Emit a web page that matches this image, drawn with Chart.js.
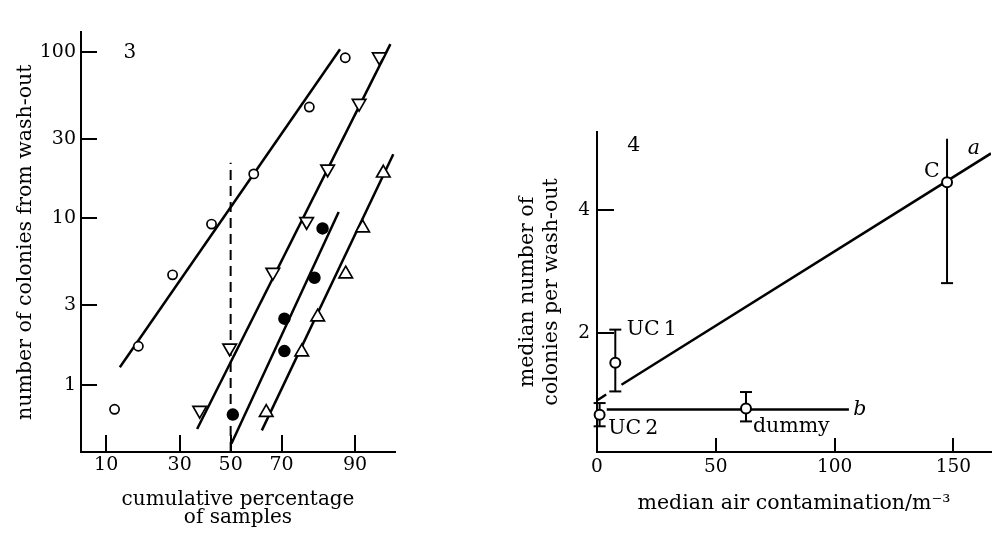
<!DOCTYPE html>
<html>
<head>
<meta charset="utf-8">
<script src="https://cdn.jsdelivr.net/npm/chart.js@4"></script>
<style>
html, body { margin:0; padding:0; background:#fff; }
#wrap { position:relative; width:999px; height:533px; overflow:hidden; background:#fff; }
canvas { position:absolute; top:0; }
#left { left:0; }
#right { left:500px; }
</style>
</head>
<body>
<div id="wrap">
<canvas id="left" width="420" height="533"></canvas>
<canvas id="right" width="499" height="533"></canvas>
</div>
<script>
(function(){

// fig 3 : cumulative percentage (probit) vs colonies (log)
var pctTicks = [10, 30, 50, 70, 90];
var countTicks = [1, 3, 10, 30, 100];
var pctRange = [6.17, 95.47];
var countRange = [0.393, 131.3];

var openPct = [11.6, 17.1, 27.5, 42.2, 59.4, 79.1, 88.1];
var openCount = [0.71, 1.70, 4.57, 9.23, 18.5, 46.7, 92.4];
var openFitPct = [12.7, 87.0];
var openFitCount = [1.27, 104];

var downPct = [37.5, 49.6, 66.8, 78.3, 84.1, 90.7, 93.7];
var downCount = [0.70, 1.66, 4.73, 9.57, 19.8, 49.2, 93.6];
var downFitPct = [36.5, 95.0];
var downFitCount = [0.54, 111.6];

var filledPct = [50.9, 71.0, 71.0, 80.6, 82.8];
var filledCount = [0.66, 1.59, 2.49, 4.39, 8.69];
var filledFitPct = [50.3, 86.7];
var filledFitCount = [0.44, 10.9];

var upPct = [64.3, 76.8, 81.5, 88.2, 91.3, 94.2];
var upCount = [0.68, 1.57, 2.55, 4.63, 8.75, 18.7];
var upFitPct = [62.6, 95.3];
var upFitCount = [0.53, 24.3];

var medianPct = [50, 50];
var medianCount = [0.393, 21.6];

var fig3Text = ['3'];
var fig3Pct = [15.0];
var fig3Count = [99];

// fig 4 : air contamination vs median colonies
var airTicks = [0, 50, 100, 150];
var medTicks = [2, 4];
var airRange = [0, 165.8];
var medRange = [0.05, 5.28];

var sampleAir = [1.1, 7.7, 62.7, 147.3];
var sampleMed = [0.66, 1.51, 0.76, 4.46];
var sampleLo = [0.47, 1.04, 0.55, 2.81];
var sampleHi = [0.85, 2.05, 1.03, 5.17];
var sampleTopCap = [true, true, true, false];

var lineAAir = [10.3, 165.8];
var lineAMed = [1.15, 4.93];
var lineAStubAir = [0.3, 3.85];
var lineAStubMed = [0.90, 0.99];
var lineBAir = [4.1, 106.0];
var lineBMed = [0.746, 0.746];

var fig4Text = ['C', 'a', 'b', 'UC\u20091', 'UC\u20092', 'dummy', '4'];
var fig4Air = [144.2, 158.6, 107.8, 12.5, 4.7, 65.6, 15.5];
var fig4Med = [4.63, 5.0, 0.746, 2.05, 0.435, 0.468, 5.06];

var serif = "'DejaVu Serif', 'Liberation Serif', serif";
Chart.defaults.font.family = serif;
Chart.defaults.color = '#000';

// inverse normal cdf (Acklam)
function probit(p){
  var a = [-39.69683028665376, 220.9460984245205, -275.9285104469687, 138.3577518672690, -30.66479806614716, 2.506628277459239];
  var b = [-54.47609879822406, 161.5858368580409, -155.6989798598866, 66.80131188771910, -13.28068155288572];
  var c = [-0.007784894002430293, -0.3223964580411365, -2.400758277161838, -2.549732539343734, 4.374664141464968, 2.938163982698783];
  var d = [0.007784695709041462, 0.3224671290700398, 2.445134137142996, 3.754408661907416];
  var lo = 0.02425, q, r;
  if (p < lo){
    q = Math.sqrt(-2*Math.log(p));
    return (((((c[0]*q+c[1])*q+c[2])*q+c[3])*q+c[4])*q+c[5]) / ((((d[0]*q+d[1])*q+d[2])*q+d[3])*q+1);
  }
  if (p <= 1 - lo){
    q = p - 0.5; r = q*q;
    return (((((a[0]*r+a[1])*r+a[2])*r+a[3])*r+a[4])*r+a[5])*q / (((((b[0]*r+b[1])*r+b[2])*r+b[3])*r+b[4])*r+1);
  }
  q = Math.sqrt(-2*Math.log(1-p));
  return -(((((c[0]*q+c[1])*q+c[2])*q+c[3])*q+c[4])*q+c[5]) / ((((d[0]*q+d[1])*q+d[2])*q+d[3])*q+1);
}
function z(pct){ return probit(pct/100); }

function pts(xs, ys, fx){
  return xs.map(function(x, i){ return {x: fx ? fx(x) : x, y: ys[i]}; });
}

function markers(data, style, fill, radius, rotation){
  return {
    data: data, showLine: false, order: 0, clip: false,
    pointStyle: style, pointRotation: rotation || 0,
    pointRadius: radius, pointHoverRadius: radius,
    pointBackgroundColor: fill, pointBorderColor: '#000', pointBorderWidth: 1.7
  };
}
function fit(data, width){
  return {
    data: data, showLine: true, order: 1,
    borderColor: '#000', borderWidth: width || 2.5,
    pointRadius: 0, pointHoverRadius: 0
  };
}

// draws text labels at data coordinates
var notes = {
  id: 'notes',
  afterDatasetsDraw: function(chart, args, o){
    var ctx = chart.ctx, sx = chart.scales.x, sy = chart.scales.y;
    ctx.save();
    ctx.fillStyle = '#000';
    ctx.textBaseline = 'middle';
    o.text.forEach(function(t, i){
      ctx.font = (o.italic && o.italic[i] ? 'italic ' : '') + o.size + 'px ' + serif;
      ctx.textAlign = o.align ? o.align[i] : 'center';
      ctx.fillText(t, sx.getPixelForValue(o.x[i]), sy.getPixelForValue(o.y[i]));
    });
    ctx.restore();
  }
};

// ---------- left chart
new Chart(document.getElementById('left'), {
  type: 'scatter',
  plugins: [notes],
  data: { datasets: [
    markers(pts(openPct, openCount, z), 'circle', '#fff', 4.6),
    markers(pts(downPct, downCount, z), 'triangle', '#fff', 7.8, 180),
    markers(pts(filledPct, filledCount, z), 'circle', '#000', 5.4),
    markers(pts(upPct, upCount, z), 'triangle', '#fff', 7.8),
    fit(pts(openFitPct, openFitCount, z)),
    fit(pts(downFitPct, downFitCount, z)),
    fit(pts(filledFitPct, filledFitCount, z)),
    fit(pts(upFitPct, upFitCount, z)),
    Object.assign(fit(pts(medianPct, medianCount, z), 2), {borderDash: [10, 6]})
  ]},
  options: {
    responsive: false, animation: false, devicePixelRatio: 1,
    layout: { padding: { top: 12, right: 25, left: 0, bottom: 0 } },
    plugins: {
      legend: { display: false }, tooltip: { enabled: false },
      notes: { text: fig3Text, x: fig3Pct.map(z), y: fig3Count, size: 20 }
    },
    scales: {
      x: {
        type: 'linear', min: z(pctRange[0]), max: z(pctRange[1]),
        afterBuildTicks: function(s){ s.ticks = pctTicks.map(function(p){ return {value: z(p)}; }); },
        afterFit: function(s){ s.height = 81; },
        ticks: { callback: function(v, i){ return pctTicks[i]; }, padding: 19, font: { size: 19 }, maxRotation: 0, autoSkip: false },
        grid: { drawOnChartArea: false, tickLength: -17, color: '#000', lineWidth: 2 },
        border: { color: '#000', width: 2 },
        title: { display: true, text: ['cumulative percentage', 'of samples'], font: { size: 20, lineHeight: 0.9 }, padding: { top: 0, bottom: 6 } }
      },
      y: {
        type: 'logarithmic', min: countRange[0], max: countRange[1],
        afterBuildTicks: function(s){ s.ticks = countTicks.map(function(v){ return {value: v}; }); },
        afterFit: function(s){ s.width = 81; },
        ticks: { callback: function(v){ return String(v); }, padding: 21, font: { size: 19 }, autoSkip: false },
        grid: { drawOnChartArea: false, tickLength: -16, color: '#000', lineWidth: 2 },
        border: { color: '#000', width: 2 },
        title: { display: true, text: 'number of colonies from wash-out', font: { size: 20.5, lineHeight: 1.2 }, padding: { top: 13, bottom: 0 } }
      }
    }
  }
});

// ---------- right chart
var errorBars = sampleAir.map(function(x, i){
  return {
    data: [{x: x, y: sampleLo[i]}, {x: x, y: sampleHi[i]}],
    showLine: true, order: 1, clip: false,
    borderColor: '#000', borderWidth: 2,
    pointStyle: 'line', pointRadius: [6, sampleTopCap[i] ? 6 : 0], pointHoverRadius: 0,
    pointBorderColor: '#000', pointBorderWidth: 2
  };
});

new Chart(document.getElementById('right'), {
  type: 'scatter',
  plugins: [notes],
  data: { datasets: [
    Object.assign(markers(pts(sampleAir, sampleMed), 'circle', '#fff', 5), {pointBorderWidth: 2}),
    fit(pts(lineAAir, lineAMed)),
    fit(pts(lineAStubAir, lineAStubMed)),
    fit(pts(lineBAir, lineBMed))
  ].concat(errorBars)},
  options: {
    responsive: false, animation: false, devicePixelRatio: 1,
    layout: { padding: { top: 132, right: 0, left: 0, bottom: 0 } },
    plugins: {
      legend: { display: false }, tooltip: { enabled: false },
      notes: {
        text: fig4Text, x: fig4Air, y: fig4Med, size: 20.5,
        align: ['right', 'center', 'left', 'left', 'left', 'left', 'center'],
        italic: [false, true, true, false, false, false, false]
      }
    },
    scales: {
      x: {
        type: 'linear', min: airRange[0], max: airRange[1],
        afterBuildTicks: function(s){ s.ticks = airTicks.map(function(v){ return {value: v}; }); },
        afterFit: function(s){ s.height = 81; },
        ticks: { callback: function(v){ return String(v); }, padding: 18, font: { size: 18.5 }, maxRotation: 0, autoSkip: false },
        grid: { drawOnChartArea: false, tickLength: -14, color: '#000', lineWidth: 2 },
        border: { color: '#000', width: 2 },
        title: { display: true, text: 'median air contamination/m\u207B\u00B3', font: { size: 20.5, lineHeight: 1.2 }, padding: { top: 0, bottom: 17 } }
      },
      y: {
        type: 'linear', min: medRange[0], max: medRange[1],
        afterBuildTicks: function(s){ s.ticks = medTicks.map(function(v){ return {value: v}; }); },
        afterFit: function(s){ s.width = 97; },
        ticks: { callback: function(v){ return String(v); }, padding: 24, font: { size: 18.5 }, autoSkip: false },
        grid: { drawOnChartArea: false, tickLength: -17, color: '#000', lineWidth: 2 },
        border: { color: '#000', width: 2 },
        title: { display: true, text: ['median number of', 'colonies per wash-out'], font: { size: 20.5, lineHeight: 1.15 }, padding: { top: 16, bottom: 0 } }
      }
    }
  }
});

}());
</script>
</body>
</html>
